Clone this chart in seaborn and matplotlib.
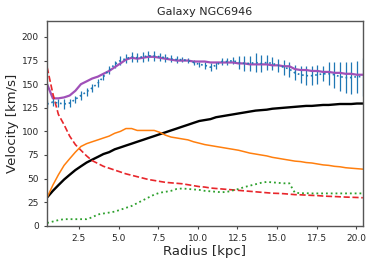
import matplotlib
matplotlib.use("Agg")
import matplotlib.pyplot as plt
import numpy as np
import pandas as pd
import seaborn as sns

sns.set_style("ticks")
plt.rcParams['font.family'] = ['DejaVu Sans']

# radius of each measured point [kpc]
radius = [0.50, 0.86, 1.21, 1.57, 1.92, 2.28, 2.63, 2.99, 3.34, 3.70,
          4.05, 4.41, 4.76, 5.12, 5.47, 5.83, 6.18, 6.54, 6.89, 7.25,
          7.60, 7.96, 8.31, 8.67, 9.02, 9.38, 9.73, 10.09, 10.44, 10.80,
          11.15, 11.51, 11.86, 12.22, 12.57, 12.93, 13.28, 13.64, 13.99, 14.35,
          14.70, 15.06, 15.41, 15.77, 16.12, 16.48, 16.83, 17.19, 17.54, 17.90,
          18.25, 18.61, 18.96, 19.32, 19.67, 20.03, 20.40]

# observed rotation curve and its errors [km/s]
v_obs = [129, 131, 130, 129, 130, 134, 138, 142, 146, 151,
         158, 165, 171, 175, 177, 179, 178, 179, 180, 180,
         179, 178, 177, 176, 176, 175, 173, 171, 170, 168,
         170, 174, 174, 175, 173, 172, 172, 173, 172, 173,
         172, 170, 168, 166, 162, 160, 159, 159, 160, 161,
         161, 160, 158, 157, 157, 158, 158]
v_err = [4, 4, 4, 5, 4, 4, 5, 4, 4, 4,
         4, 4, 4, 5, 5, 5, 5, 5, 5, 5,
         4, 4, 4, 4, 3, 3, 3, 3, 4, 4,
         4, 4, 4, 4, 7, 8, 8, 10, 9, 8,
         7, 7, 8, 8, 8, 9, 10, 10, 10, 8,
         12, 14, 15, 16, 17, 17, 20]

# model components [km/s]
v_total = [150, 135, 135, 136, 138, 143, 150, 153, 156, 158,
           161, 164, 168, 172, 176, 178, 177, 178, 179, 179,
           178, 177, 176, 175, 175, 175, 174, 174, 174, 173,
           173, 173, 173, 173, 172, 172, 171, 171, 171, 171,
           170, 170, 169, 169, 166, 165, 165, 164, 164, 163,
           163, 162, 162, 161, 161, 160, 160]
v_halo = [30, 37, 43, 49, 54, 59, 63, 67, 70, 73,
          76, 78, 81, 83, 85, 87, 89, 91, 93, 95,
          97, 99, 101, 103, 105, 107, 109, 111, 112, 113,
          115, 116, 117, 118, 119, 120, 121, 122, 122.5, 123,
          124, 124.5, 125, 125.5, 126, 126.5, 127, 127, 127.5, 128,
          128, 128.5, 129, 129, 129, 129.5, 129.5]
v_bulge = [168, 140, 118, 107, 95, 86, 80, 74, 69, 66,
           63, 61, 59, 57, 55, 53.5, 52, 50.5, 49, 48,
           47, 46, 45.5, 45, 44.5, 43.5, 42.5, 41.5, 41, 40,
           39.5, 39, 38.5, 38, 37.5, 37, 36.5, 36, 35.5, 35,
           34.5, 34.3, 34, 33.5, 33, 32.8, 32.5, 32.2, 32, 31.5,
           31.2, 31, 30.7, 30.4, 30.2, 30, 29.7]
v_disk = [30, 43, 54, 64, 71, 78, 84, 87, 89, 91,
          93, 95, 98, 100, 103, 103, 101, 101, 101, 101,
          99, 96, 94, 93, 92, 91, 89, 87.5, 86, 85,
          84, 83, 82, 81, 80, 78.5, 77, 76, 75, 74,
          72.5, 71.5, 70.5, 69.5, 68.5, 68, 67, 66.5, 65.5, 64.5,
          64, 63, 62.5, 61.5, 61, 60.5, 60]
v_gas = [3, 4.5, 6, 7, 7, 7, 7, 7, 9, 12,
         13, 14, 15, 17, 19, 21, 24, 27, 30, 33,
         35, 36, 37, 39, 39.5, 39, 38.5, 38, 37, 36.5,
         36, 35.5, 36, 37.5, 39, 41, 42.5, 44, 45.5, 46.5,
         46, 45.5, 45, 45, 35, 34.5, 34.5, 34.3, 34.3, 34.3,
         34.3, 34.3, 34.3, 34.3, 34.3, 34.3, 34.3]

df = pd.DataFrame({'r': radius, 'obs': v_obs, 'err': v_err, 'total': v_total,
                   'halo': v_halo, 'bulge': v_bulge, 'disk': v_disk, 'gas': v_gas})

fig = plt.figure(figsize=(3.74, 2.65), dpi=100)
ax = fig.add_axes([0.126, 0.148, 0.844, 0.773])

# observed data with error bars, model components on top
ax.errorbar(df['r'], df['obs'], yerr=df['err'], fmt=':', color='#1f77b4', lw=1.2, elinewidth=0.9)
sns.lineplot(x='r', y='total', data=df, color='#a050b8', lw=1.6, ax=ax)
sns.lineplot(x='r', y='halo', data=df, color='black', lw=1.7, ax=ax)
sns.lineplot(x='r', y='bulge', data=df, color='#e8262b', lw=1.2, ls='--', ax=ax)
sns.lineplot(x='r', y='disk', data=df, color='#ff7f0e', lw=1.1, ax=ax)
sns.lineplot(x='r', y='gas', data=df, color='#2ca02c', lw=1.3, ls=':', ax=ax)

ax.set_xlim(radius[0], radius[-1])
ax.set_ylim(0, 217)
ax.set_xticks([2.5, 5.0, 7.5, 10.0, 12.5, 15.0, 17.5, 20.0])
ax.set_yticks([0, 25, 50, 75, 100, 125, 150, 175, 200])
ax.tick_params(labelsize=6.5, length=2.5, width=0.8, color='#444444')
for s in ax.spines.values():
    s.set_color('#555555')
    s.set_linewidth(1.0)

ax.set_xlabel('Radius [kpc]', fontsize=9.5, labelpad=1)
ax.set_ylabel('Velocity [km/s]', fontsize=9.5, labelpad=2)
ax.set_title('Galaxy NGC6946', fontsize=8, pad=4)

plt.savefig('out.png', dpi=100)
